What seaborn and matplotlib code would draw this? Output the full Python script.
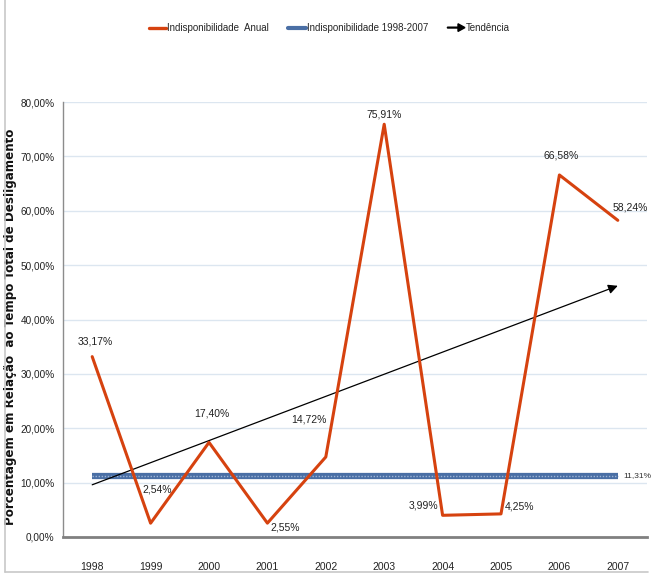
import numpy as np
import pandas as pd
import seaborn as sns
import matplotlib.pyplot as plt
import matplotlib.patches as mpatches
from matplotlib.lines import Line2D
from matplotlib.legend_handler import HandlerBase

years = ["1998", "1999", "2000", "2001", "2002", "2003", "2004", "2005", "2006", "2007"]
indisp_anual = [33.17, 2.54, 17.40, 2.55, 14.72, 75.91, 3.99, 4.25, 66.58, 58.24]
indisp_media = 11.31
trend_start = 9.6
trend_end = 46.2
label_offsets = [(2, 11), (5, 24), (2, 21), (13, -3), (-12, 27), (0, 7), (-14, 7), (13, 5), (1, 14), (9, 9)]

sns.set_style("white")
plt.rcParams['font.family'] = ['Liberation Sans Narrow', 'Liberation Sans', 'DejaVu Sans']

RED = "#d6420f"
BLUE = "#4a6fa5"


class ArrowHandler(HandlerBase):
    def create_artists(self, legend, orig_handle, xdescent, ydescent, width, height, fontsize, trans):
        y = height / 2 - ydescent
        arr = mpatches.FancyArrow(-xdescent, y, width, 0, width=0.6, head_width=5.5,
                                  head_length=5, length_includes_head=True,
                                  color="black", transform=trans)
        return [arr]


df = pd.DataFrame({"x": np.arange(len(years)), "valor": indisp_anual})

fig = plt.figure(figsize=(6.52, 5.75), dpi=100)
ax = fig.add_axes([63 / 652, 38 / 575, 584 / 652, 435 / 575])

ax.yaxis.grid(True, color="#dce6f0", linewidth=1)
ax.set_axisbelow(True)

# media do periodo
ax.plot([0, 9], [indisp_media, indisp_media], color=BLUE, linewidth=4.5, solid_capstyle="butt", zorder=2)
ax.plot([0, 9], [indisp_media, indisp_media], color="#9db4d6", linewidth=1, linestyle=(0, (1, 1.2)), zorder=2)
ax.text(9.1, indisp_media, "11,31%", fontsize=6, va="center", ha="left", color="#333333")

# tendencia
ax.annotate("", xy=(9, trend_end), xytext=(0, trend_start),
            arrowprops=dict(arrowstyle="-|>", color="black", lw=0.9, mutation_scale=14,
                            shrinkA=0, shrinkB=0), zorder=3)

sns.lineplot(data=df, x="x", y="valor", ax=ax, color=RED, linewidth=2.2, zorder=4)

for i, v in enumerate(indisp_anual):
    lbl = "{:.2f}%".format(v).replace(".", ",")
    ax.annotate(lbl, xy=(i, v), xytext=label_offsets[i], textcoords="offset points",
                ha="center", va="center", fontsize=7.5, color="#222222")

ax.set_xlim(-0.5, 9.5)
ax.set_ylim(0, 80)
ax.set_xticks(np.arange(len(years)))
ax.set_xticklabels(years)
ax.set_yticks(np.arange(0, 81, 10))
ax.set_yticklabels(["{:.2f}%".format(t).replace(".", ",") for t in np.arange(0, 81, 10)])
ax.tick_params(axis="x", length=0, pad=18, labelsize=7.5, labelcolor="#222222")
ax.tick_params(axis="y", length=0, pad=6, labelsize=7.2, labelcolor="#222222")
ax.set_xlabel("")
ax.set_ylabel("Porcentagem em Relação  ao Tempo Total de Desligamento", fontsize=8.6,
              fontweight="bold", family="DejaVu Sans", color="#111111")
ax.yaxis.set_label_coords(-0.078, 0.483)

for s in ["top", "right"]:
    ax.spines[s].set_visible(False)
ax.spines["left"].set_color("#8c8c8c")
ax.spines["left"].set_linewidth(1)
ax.spines["bottom"].set_color("#808080")
ax.spines["bottom"].set_linewidth(2)

handles = [Line2D([0], [0], color=RED, linewidth=2.4),
           Line2D([0], [0], color=BLUE, linewidth=3),
           mpatches.Patch(color="black")]
labels = ["Indisponibilidade  Anual", "Indisponibilidade 1998-2007", "Tendência"]
fig.legend(handles, labels, loc="center", bbox_to_anchor=(0.505, 1 - 28 / 575), ncol=3,
           frameon=False, fontsize=7, handlelength=1.8, handletextpad=0.1, columnspacing=2.0,
           handler_map={mpatches.Patch: ArrowHandler()})

# moldura
fig.add_artist(Line2D([5 / 652, 5 / 652], [3 / 575, 1], color="#c8c8c8", lw=1.2))
fig.add_artist(Line2D([5 / 652, 648 / 652], [3 / 575, 3 / 575], color="#c8c8c8", lw=1.2))

fig.savefig("out.png", dpi=100)
